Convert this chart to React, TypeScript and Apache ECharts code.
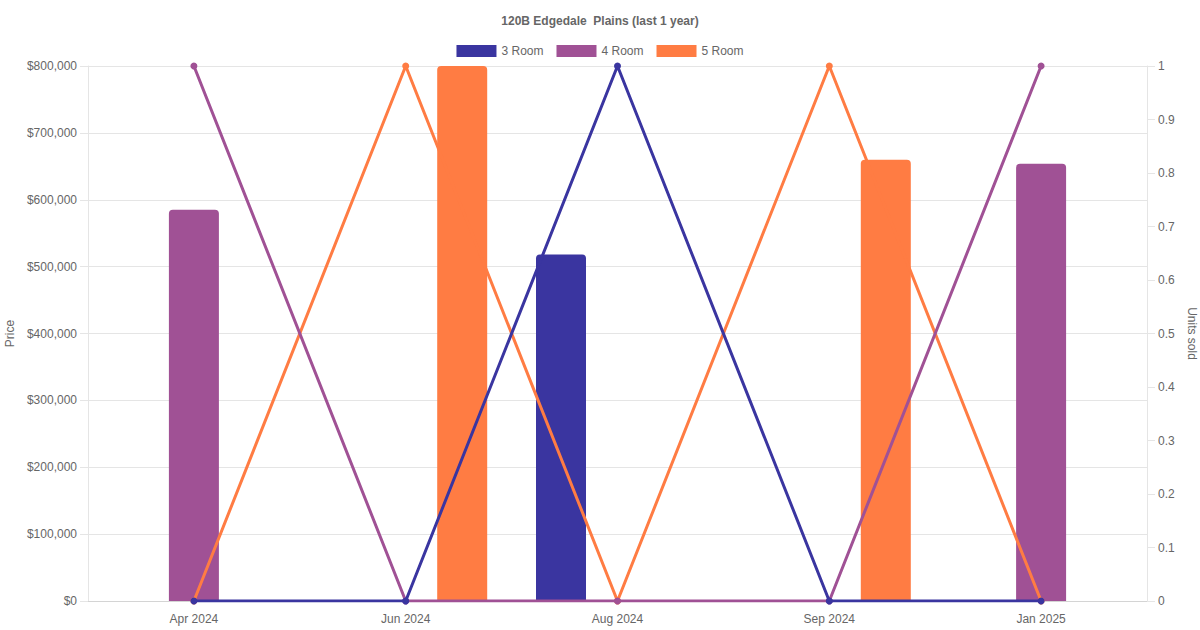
import React, { useEffect, useRef } from "react";
import * as echarts from "echarts";

const categories = ["Apr 2024", "Jun 2024", "Aug 2024", "Sep 2024", "Jan 2025"];
const seriesNames = ["3 Room", "4 Room", "5 Room"];
const colors = ["#3a35a0", "#a05195", "#ff7c43"];
const priceValues: (number | null)[][] = [
  [null, null, 518000, null, null],
  [585000, null, null, null, 654000],
  [null, 800000, null, 660000, null],
];
const unitsSold: number[][] = [
  [0, 0, 1, 0, 0],
  [1, 0, 0, 0, 1],
  [0, 1, 0, 1, 0],
];

const FONT = "Liberation Sans, Arial, Helvetica, sans-serif";

export default function App() {
  const ref = useRef<HTMLDivElement>(null);
  useEffect(() => {
    if (!ref.current) return;
    const chart = echarts.init(ref.current, undefined, { renderer: "svg" });
    const barSeries = seriesNames.map((name, i) => ({
      name,
      type: "bar",
      yAxisIndex: 0,
      data: priceValues[i],
      barWidth: 50,
      barGap: "13%",
      itemStyle: { color: colors[i], borderRadius: [4, 4, 0, 0] },
      z: 2,
    }));
    const lineSeries = seriesNames.map((name, i) => ({
      name,
      type: "line",
      yAxisIndex: 1,
      data: unitsSold[i],
      symbol: "circle",
      symbolSize: 7,
      lineStyle: { color: colors[i], width: 3 },
      itemStyle: { color: colors[i] },
      z: 5 + (2 - i),
    }));
    chart.setOption({
      animation: false,
      textStyle: { fontFamily: FONT },
      title: {
        text: "120B Edgedale  Plains (last 1 year)",
        left: "center",
        top: 10,
        textStyle: { fontSize: 12, fontWeight: "bold", color: "#666", fontFamily: FONT },
      },
      legend: {
        data: seriesNames.map((n, i) => ({ name: n, itemStyle: { color: colors[i] } })),
        top: 40,
        left: "center",
        icon: "rect",
        itemWidth: 40,
        itemHeight: 12,
        itemGap: 13,
        textStyle: { fontSize: 12, color: "#666", fontFamily: FONT },
      },
      grid: { left: 88, right: 53, top: 66, bottom: 29, containLabel: false, outerBoundsMode: "none" },
      xAxis: {
        type: "category",
        data: categories,
        boundaryGap: true,
        axisLine: { show: true, lineStyle: { color: "#d4d4d4" } },
        axisTick: { show: false },
        axisLabel: { color: "#666", fontSize: 12, margin: 12, fontFamily: FONT },
        splitLine: { show: false },
      },
      yAxis: [
        {
          type: "value",
          min: 0,
          max: 800000,
          interval: 100000,
          name: "Price",
          nameLocation: "middle",
          nameRotate: 90,
          nameGap: 72,
          nameTextStyle: { color: "#666", fontSize: 12, fontFamily: FONT },
          axisLine: { show: true, lineStyle: { color: "#e5e5e5" } },
          axisTick: { show: true, length: 8, lineStyle: { color: "#e5e5e5" } },
          axisLabel: {
            color: "#666",
            fontSize: 12,
            margin: 11,
            fontFamily: FONT,
            formatter: (v: number) => "$" + v.toLocaleString("en-US"),
          },
          splitLine: { show: true, lineStyle: { color: "#e5e5e5" } },
        },
        {
          type: "value",
          position: "right",
          min: 0,
          max: 1,
          interval: 0.1,
          name: "Units sold",
          nameLocation: "middle",
          nameRotate: -90,
          nameGap: 34,
          nameTextStyle: { color: "#666", fontSize: 12, fontFamily: FONT },
          axisLine: { show: true, lineStyle: { color: "#e5e5e5" } },
          axisTick: { show: true, length: 8, lineStyle: { color: "#e5e5e5" } },
          axisLabel: {
            color: "#666",
            fontSize: 12,
            margin: 11,
            fontFamily: FONT,
            formatter: (v: number) => String(Math.round(v * 10) / 10),
          },
          splitLine: { show: false },
        },
      ],
      series: [...barSeries, ...lineSeries],
    });
    return () => chart.dispose();
  }, []);
  return <div ref={ref} style={{ width: 1200, height: 630, position: "absolute", left: 0, top: 0 }} />;
}
